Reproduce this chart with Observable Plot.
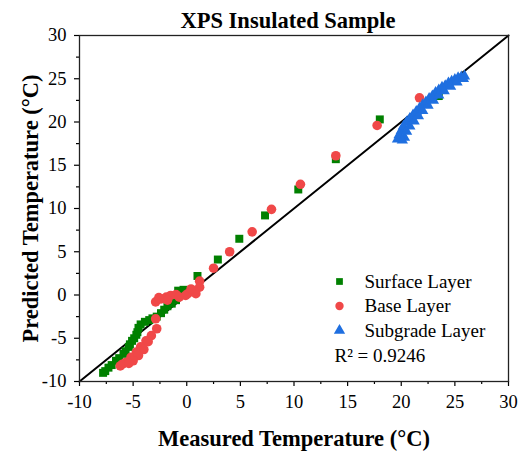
<!DOCTYPE html>
<html>
<head>
<meta charset="utf-8">
<script src="https://cdn.jsdelivr.net/npm/d3@7"></script>
<script src="https://cdn.jsdelivr.net/npm/@observablehq/plot@0.6"></script>
<style>
  html, body { margin: 0; padding: 0; background: #fff; }
  svg text { font-family: "Liberation Serif", "Times New Roman", serif; }
</style>
</head>
<body>
<div id="chart"></div>
<script>
const titleText = "XPS Insulated Sample";
const xLabel = "Measured Temperature (°C)";
const yLabel = "Predicted Temperature (°C)";
const majorTicks = [-10, -5, 0, 5, 10, 15, 20, 25, 30];
const minorTicks = [-7.5, -2.5, 2.5, 7.5, 12.5, 17.5, 22.5, 27.5];
const legendLabels = ["Surface Layer", "Base Layer", "Subgrade Layer"];
const legendSymbols = ["square", "circle", "triangle"];
const seriesColors = ["#008000", "#F04848", "#1F6FE0"];
const r2Text = "R² = 0.9246";
const refLineX = [-10, 30];
const refLineY = [-10, 30];
const serif = "Liberation Serif";

// Surface layer
const surfaceX = [18.0, 13.9, 10.4, 7.3, 4.9, 2.9, 1.0, 23.5, -0.8, -0.3,
  -1.0, -1.4, -1.8, -2.1, -2.4, -2.8, -3.2, -3.5, -3.9, -4.3, -4.5, -4.6, -4.7, -4.9,
  -5.1, -5.3, -5.4, -5.7, -5.9, -6.3, -6.6, -7.0, -7.3, -7.6, -7.8];
const surfaceY = [20.3, 15.7, 12.2, 9.2, 6.5, 4.1, 2.2, 23.0, 0.5, 0.6,
  -0.6, -1.0, -1.3, -1.7, -2.1, -2.5, -2.7, -2.9, -3.1, -3.4, -3.8, -4.3, -4.6, -5.0,
  -5.3, -5.7, -6.0, -6.5, -6.8, -7.3, -7.6, -8.1, -8.4, -8.8, -9.0];

// Base layer
const baseX = [17.75, 13.9, 10.6, 7.9, 6.1, 4.0, 2.5, 1.2, 21.7,
  1.2, 0.55, 0.1, 0.85, -0.1, 0.4,
  -2.9, -2.4, -1.9, -1.5, -1.0, -0.7, -1.8, -2.6,
  -2.9, -2.8, -3.3, -3.8, -4.3, -4.7, -5.2, -5.7, -6.0,
  -3.6, -4.0, -4.5, -5.0, -5.4, -6.2];
const baseY = [19.6, 16.1, 12.8, 9.9, 7.3, 5.0, 3.1, 1.6, 22.8,
  0.9, 0.5, 0.15, 0.15, -0.05, 0.7,
  -0.8, -0.45, -0.25, -0.05, 0.05, -0.25, -0.6, -0.3,
  -2.75, -3.9, -4.7, -5.3, -6.0, -6.6, -7.2, -7.8, -8.0,
  -5.4, -6.3, -7.0, -7.6, -7.9, -8.2];

// Subgrade layer
const subgradeX = [19.65, 19.8, 20.0, 20.2, 20.5, 20.8, 21.1, 21.4, 21.7, 22.0, 22.3, 22.6, 22.9, 23.2, 23.5, 23.8, 24.1, 24.4, 24.7, 25.0, 25.3, 25.6, 25.9,
  20.3, 20.5, 20.8, 21.2, 21.6, 22.0, 22.5, 23.0, 23.5, 24.0, 24.6, 25.2, 25.8, 20.1];
const subgradeY = [18.0, 18.5, 19.0, 19.5, 20.0, 20.4, 20.8, 21.2, 21.6, 22.0, 22.3, 22.7, 23.0, 23.4, 23.7, 24.0, 24.2, 24.5, 24.7, 24.9, 25.1, 25.2, 25.3,
  18.2, 18.9, 19.5, 20.1, 20.7, 21.3, 21.9, 22.5, 23.1, 23.6, 24.1, 24.6, 25.0, 17.9];

const toRows = (xs, ys) => xs.map((x, i) => ({x, y: ys[i]}));
const seriesData = [toRows(surfaceX, surfaceY), toRows(baseX, baseY), toRows(subgradeX, subgradeY)];
const seriesR = [4.5, 4.8, 4.2];

const legendMarks = [];
legendLabels.forEach((label, i) => {
  legendMarks.push(Plot.dot([label], {frameAnchor: "top-left", dx: 260, dy: 246 + i * 24.5,
    symbol: legendSymbols[i], fill: seriesColors[i], r: i === 0 ? 3.8 : 4.2}));
  legendMarks.push(Plot.text([label], {frameAnchor: "top-left", dx: 285, dy: 246 + i * 24.5,
    text: d => d, textAnchor: "start", lineAnchor: "middle", fontSize: 19, fontFamily: serif, fill: "black"}));
});
legendMarks.push(Plot.text([r2Text], {frameAnchor: "top-left", dx: 255, dy: 320,
  text: d => d, textAnchor: "start", lineAnchor: "middle", fontSize: 19, fontFamily: serif, fill: "black"}));

const chart = Plot.plot({
  width: 523,
  height: 455,
  marginLeft: 79,
  marginRight: 15,
  marginTop: 35,
  marginBottom: 74,
  style: {fontFamily: serif, fontSize: "18px", color: "black", background: "white"},
  x: {domain: [-10, 30]},
  y: {domain: [-10, 30]},
  marks: [
    Plot.axisX(minorTicks, {tickSize: 3, text: null, label: null, strokeWidth: 1.2}),
    Plot.axisX(majorTicks, {tickSize: 5, tickPadding: 8, label: null, tickFormat: d => String(d), fontSize: 18.5, fontFamily: serif, strokeWidth: 1.2}),
    Plot.axisY(minorTicks, {tickSize: 3, text: null, label: null, strokeWidth: 1.2}),
    Plot.axisY(majorTicks, {tickSize: 5, tickPadding: 8, label: null, tickFormat: d => String(d), fontSize: 18.5, fontFamily: serif, strokeWidth: 1.2}),
    Plot.line(refLineX.map((x, i) => ({x, y: refLineY[i]})), {x: "x", y: "y", stroke: "black", strokeWidth: 2}),
    ...seriesData.map((rows, i) => Plot.dot(rows, {x: "x", y: "y", symbol: legendSymbols[i], fill: seriesColors[i], r: seriesR[i]})),
    Plot.frame({stroke: "#222", strokeWidth: 1.3}),
    ...legendMarks,
    Plot.text([titleText], {frameAnchor: "top", dx: -6, dy: -15, text: d => d, textAnchor: "middle", lineAnchor: "middle", fontSize: 22.5, fontWeight: "bold", fontFamily: serif, fill: "black"}),
    Plot.text([xLabel], {frameAnchor: "bottom", dy: 57, text: d => d, textAnchor: "middle", lineAnchor: "middle", fontSize: 22.5, fontWeight: "bold", fontFamily: serif, fill: "black"}),
    Plot.text([yLabel], {frameAnchor: "left", dx: -49, text: d => d, rotate: -90, textAnchor: "middle", lineAnchor: "middle", fontSize: 22.5, fontWeight: "bold", fontFamily: serif, fill: "black"})
  ]
});
document.getElementById("chart").appendChild(chart);
</script>
</body>
</html>
